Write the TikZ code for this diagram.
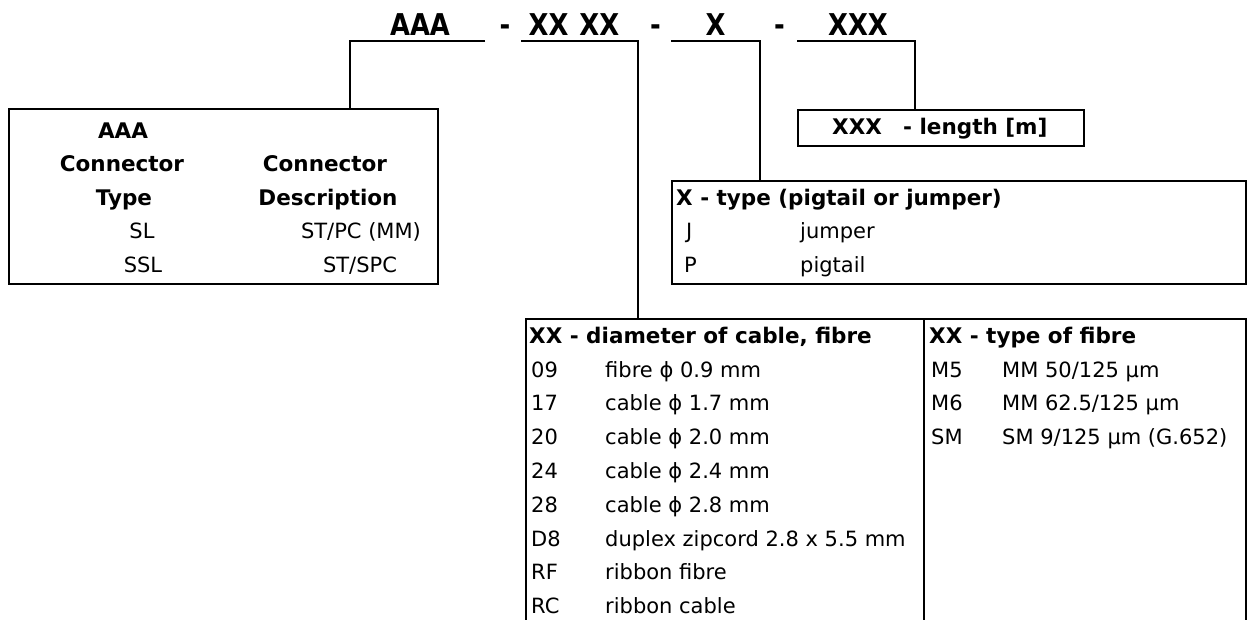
\documentclass[tikz,border=0pt]{standalone}
\usepackage{fontspec}
\setmainfont{DejaVu Sans}
\newfontfamily\titlefont[FakeStretch=0.86]{DejaVu Sans}
\begin{document}
\begin{tikzpicture}[x=1pt,y=-1pt,
  ln/.style={line width=2pt},
  tw/.style={inner sep=0pt, anchor=base west, font=\fontsize{21}{25}\selectfont},
  tc/.style={inner sep=0pt, anchor=base, font=\fontsize{21}{25}\selectfont},
  bw/.style={inner sep=0pt, anchor=base west, font=\fontsize{21.5}{25}\selectfont\bfseries},
  bc/.style={inner sep=0pt, anchor=base, font=\fontsize{21.5}{25}\selectfont\bfseries},
  ttl/.style={inner sep=0pt, anchor=base, font=\titlefont\fontsize{30}{32}\selectfont\bfseries},
  frame/.style={draw, line width=2pt, inner sep=0pt, anchor=north west}]
\useasboundingbox (0,0) rectangle (1248,619);
% title
\node[ttl] (tA) at (420,35.5) {AAA};
\node[ttl] (d1) at (505,35.5) {-};
\node[ttl] (tB) at (574,35.5) {XX\hspace{11pt}XX};
\node[ttl] (d2) at (655.5,35.5) {-};
\node[ttl] (tC) at (715.5,35.5) {X};
\node[ttl] (d3) at (779.5,35.5) {-};
\node[ttl] (tD) at (858,35.5) {XXX};
% boxes
\node[frame, minimum width=429pt, minimum height=175pt] (boxA) at (8,108) {};
\node[frame, minimum width=286pt, minimum height=36pt] (boxD) at (797,109) {};
\node[frame, minimum width=574pt, minimum height=103pt] (boxC) at (671,180) {};
\node[frame, minimum width=398pt, minimum height=330pt] (boxB) at (525,318) {};
\node[frame, minimum width=322pt, minimum height=330pt] (boxF) at (923,318) {};
% underline/connector coordinates
\coordinate (uA1) at (350,41); \coordinate (uA2) at (485,41);
\coordinate (uB1) at (521,41); \coordinate (uB2) at (638,41);
\coordinate (uC1) at (671,41); \coordinate (uC2) at (760,41);
\coordinate (uD1) at (797,41); \coordinate (uD2) at (915,41);
\draw[ln] (uA2) -- (uA1) -- (uA1 |- boxA.north);
\draw[ln] (uB1) -- (uB2) -- (uB2 |- boxB.north);
\draw[ln] (uC1) -- (uC2) -- (uC2 |- boxC.north);
\draw[ln] (uD1) -- (uD2) -- (uD2 |- boxD.north);
% AAA box text
\node[bc] (a1) at (123,138) {AAA};
\node[bc] (a2) at (122,171.5) {Connector};
\node[bc] (a3) at (124,205) {Type};
\node[tc] (a4) at (142,238.5) {SL};
\node[tc] (a5) at (143,272) {SSL};
\node[bc] (a6) at (325,171.5) {Connector};
\node[bc] (a7) at (328,205) {Description};
\node[tc] (a8) at (361,238.5) {ST/PC (MM)};
\node[tc] (a9) at (360,272) {ST/SPC};
% length box
\node[bw] (l1) at (832,134.5) {XXX};
\node[bw] (l2) at (903,134.5) {- length [m]};
% type box
\node[bw] (x0) at (676,205) {X - type (pigtail or jumper)};
\node[tw] (x1) at (686,238.5) {J};
\node[tw] (x2) at (800,238.5) {jumper};
\node[tw] (x3) at (684,272) {P};
\node[tw] (x4) at (800,272) {pigtail};
% diameter table
\node[bw] (b0) at (529,343) {XX - diameter of cable, fibre};
\foreach \c/\d [count=\i from 0] in {09/{fibre ϕ 0.9 mm}, 17/{cable ϕ 1.7 mm}, 20/{cable ϕ 2.0 mm}, 24/{cable ϕ 2.4 mm}, 28/{cable ϕ 2.8 mm}, D8/{duplex zipcord 2.8 x 5.5 mm}, RF/{ribbon fibre}, RC/{ribbon cable}}{
  \node[tw] (bc\i) at (531,377+33.8*\i) {\c};
  \node[tw] (bd\i) at (605,377+33.8*\i) {\d};
}
% fibre table
\node[bw] (f0) at (929,343) {XX - type of fibre};
\foreach \c/\d [count=\i from 0] in {M5/{MM 50/125 µm}, M6/{MM 62.5/125 µm}, SM/{SM 9/125 µm (G.652)}}{
  \node[tw] (fc\i) at (931,377+33.8*\i) {\c};
  \node[tw] (fd\i) at (1002,377+33.8*\i) {\d};
}
\end{tikzpicture}
\end{document}
